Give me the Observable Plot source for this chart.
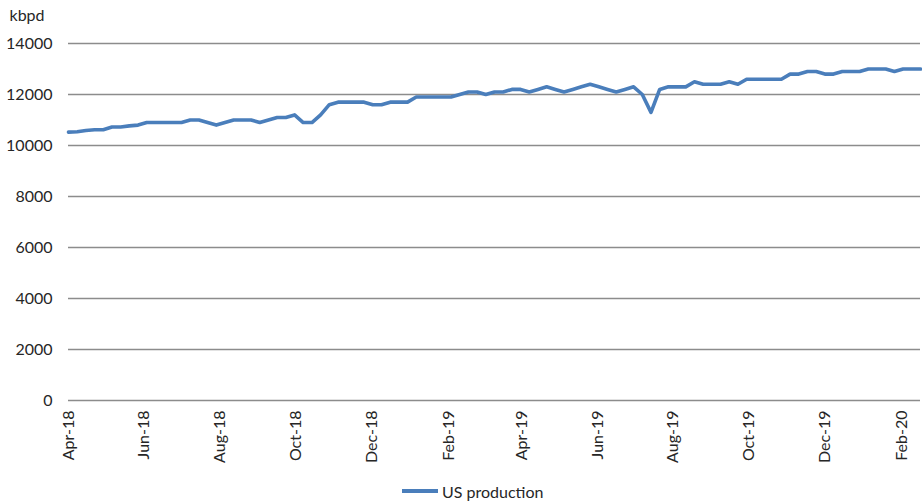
<!DOCTYPE html>
<html>
<head>
<meta charset="utf-8">
<script src="https://cdn.jsdelivr.net/npm/d3@7"></script>
<script src="https://cdn.jsdelivr.net/npm/@observablehq/plot@0.6"></script>
<style>
  html, body { margin: 0; padding: 0; background: #fff; }
  body { width: 922px; height: 504px; overflow: hidden; font-family: Lato, "Open Sans", sans-serif; }
  #legend { display: flex; align-items: center; margin-left: 402px; height: 26px; font-size: 16px; color: #262626; }
  #legend .swatch { width: 36px; height: 4px; background: #4a7ebb; margin-right: 4px; }
</style>
</head>
<body>
<div id="chart"></div>
<div id="legend"><span class="swatch"></span><span id="legend-label"></span></div>
<script>
// ---- data ----
const seriesName = "US production";
const yLabel = "kbpd";
const firstWeek = "2018-04-06"; // weekly observations (Fridays)
const production = [
  10525, 10540, 10586, 10619, 10620, 10723, 10725, 10769, 10800, 10900,
  10900, 10900, 10900, 10900, 11000, 11000, 10900, 10800, 10900, 11000,
  11000, 11000, 10900, 11000, 11100, 11100, 11200, 10900, 10900, 11200,
  11600, 11700, 11700, 11700, 11700, 11600, 11600, 11700, 11700, 11700,
  11900, 11900, 11900, 11900, 11900, 12000, 12100, 12100, 12000, 12100,
  12100, 12200, 12200, 12100, 12200, 12300, 12200, 12100, 12200, 12300,
  12400, 12300, 12200, 12100, 12200, 12300, 12000, 11300, 12200, 12300,
  12300, 12300, 12500, 12400, 12400, 12400, 12500, 12400, 12600, 12600,
  12600, 12600, 12600, 12800, 12800, 12900, 12900, 12800, 12800, 12900,
  12900, 12900, 13000, 13000, 13000, 12900, 13000, 13000, 13000
];
const yTicks = [0, 2000, 4000, 6000, 8000, 10000, 12000, 14000];
const xTickCount = 12; // a label every two months from the first week

// ---- build ----
const start = new Date(firstWeek + "T00:00:00Z");
const data = production.map((v, i) => ({date: d3.utcWeek.offset(start, i), value: v}));
const xTicks = d3.range(xTickCount).map(k => d3.utcMonth.offset(start, 2 * k));
const fmt = d3.utcFormat("%b-%y");

document.getElementById("legend-label").textContent = seriesName;

const chart = Plot.plot({
  width: 922,
  height: 478,
  marginLeft: 68,
  marginRight: 2,
  marginTop: 43,
  marginBottom: 78,
  style: {fontFamily: "Lato, 'Open Sans', sans-serif", fontSize: "16px", color: "#262626", background: "#fff"},
  x: {type: "utc", domain: [data[0].date, data[data.length - 1].date]},
  y: {domain: [0, 14000]},
  marks: [
    Plot.gridY(yTicks, {stroke: "#8c8c8c", strokeOpacity: 1, strokeWidth: 1.4}),
    Plot.axisY(yTicks, {tickSize: 0, tickPadding: 16, tickFormat: d => String(d), label: null, fontSize: 16}),
    Plot.axisX(xTicks, {tickSize: 0, tickPadding: 10, tickRotate: -90, tickFormat: fmt, label: null, fontSize: 16}),
    Plot.text([yLabel], {frameAnchor: "top-left", text: d => d, dx: -59, dy: -28, textAnchor: "start", lineAnchor: "middle", fontSize: 16}),
    Plot.line(data, {x: "date", y: "value", stroke: "#4a7ebb", strokeWidth: 3.6, strokeLinejoin: "round", strokeLinecap: "round"})
  ]
});
document.getElementById("chart").appendChild(chart);
</script>
</body>
</html>
